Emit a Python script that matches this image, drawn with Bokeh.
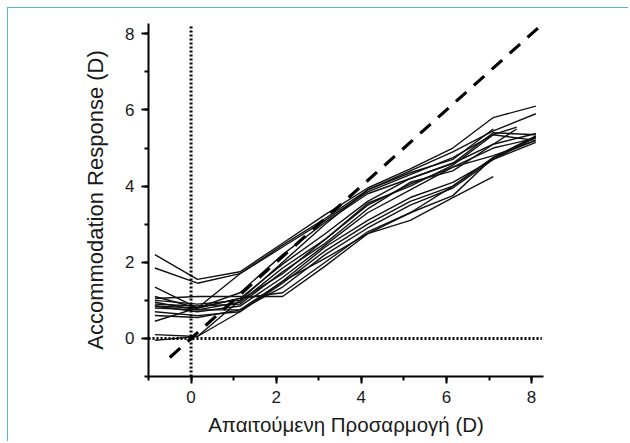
from bokeh.plotting import figure
from bokeh.models import Range1d, SingleIntervalTicker
from bokeh.embed import file_html
from bokeh.resources import INLINE

# Accommodation demand (D) at which responses were measured
demand = [-0.85, 0.15, 1.15, 2.15, 3.15, 4.15, 5.15, 6.15, 7.1, 8.1]
demand_short = [-0.85, 0.15, 1.15, 2.15, 3.15, 4.15, 5.15, 6.15, 7.1, 7.65]

# Individual accommodation responses (D)
s01 = [2.2, 1.55, 1.75, 2.5, 3.25, 3.95, 4.45, 5.0, 5.8, 6.1]
s02 = [1.85, 1.45, 1.7, 2.45, 3.15, 3.9, 4.4, 4.9, 5.45, 5.9]
s03 = [1.35, 0.8, 1.7, 2.4, 3.1, 3.85, 4.3, 4.75, 5.35, 5.55]
s04 = [1.1, 0.8, 1.05, 1.95, 2.75, 3.6, 4.2, 4.6, 5.1, 5.38]
s05 = [1.05, 1.1, 1.1, 1.1, 1.9, 2.75, 3.3, 3.75, 4.75, 5.32]
s06 = [0.95, 0.75, 0.95, 1.85, 2.6, 3.5, 4.05, 4.5, 5.0, 5.26]
s07 = [0.9, 0.85, 0.9, 1.75, 2.5, 3.4, 4.1, 4.4, 5.1, 5.5]
s08 = [0.85, 0.7, 0.85, 1.6, 2.45, 3.3, 3.9, 4.5, 4.8, 5.2]
s09 = [0.8, 0.75, 0.75, 1.5, 2.4, 3.1, 3.7, 4.1, 4.7, 5.15]
s10 = [0.7, 0.6, 0.7, 1.45, 2.3, 3.0, 3.6, 4.0, 4.75, 5.2]
s11 = [0.6, 0.55, 0.75, 1.35, 2.2, 2.9, 3.5, 3.95, 4.7, 5.28]
s12 = [0.45, 0.8, 1.05, 1.2, 2.0, 2.8, 3.3, 4.0, 4.75, 5.3]
s13 = [0.1, 0.05, 1.0, 2.0, 3.0, 3.9, 4.35, 4.7, 5.5]
s14 = [-0.05, 0.05, 0.7, 1.5, 2.1, 2.75, 3.1, 3.7, 4.25]
s15 = [0.85, 0.8, 1.2, 2.2, 3.05, 3.8, 4.2, 4.6, 5.4, 5.35]
s16 = [1.0, 0.9, 1.0, 1.7, 2.6, 3.55, 4.0, 4.55, 5.35, 5.2]

full_subjects = [s01, s02, s04, s05, s06, s08, s09, s10, s11, s12, s15, s16]
short_subjects = [s03, s07]
partial_subjects = [s13, s14]

FONT = "Liberation Sans"
TXT = "#1a1a1a"

p = figure(width=621, height=434,
           x_range=Range1d(-1, 8.28), y_range=Range1d(-1, 8.27),
           output_backend="svg", toolbar_location=None,
           min_border_left=140, min_border_right=86,
           min_border_top=15, min_border_bottom=66)
p.grid.visible = False
p.outline_line_color = None
p.background_fill_color = "white"
p.border_fill_color = "white"
p.styles = {"margin-left": "7px", "margin-top": "7px",
            "border-top": "1px solid #4dbad2", "border-left": "1px solid #4dbad2"}

xs, ys = [], []
for s in full_subjects:
    xs.append(demand[:len(s)]); ys.append(s)
for s in short_subjects:
    xs.append(demand_short[:len(s)]); ys.append(s)
for s in partial_subjects:
    xs.append(demand[:len(s)]); ys.append(s)
p.multi_line(xs, ys, line_color="#111111", line_width=1.4)

# reference lines
p.line([-0.5, 8.24], [-0.5, 8.24], line_color="black", line_width=3.2, line_dash="14 10")
p.line([0, 0], [-1, 8.2], line_color="black", line_width=3, line_dash="2 2")
p.line([-1, 8.24], [0, 0], line_color="black", line_width=3, line_dash="2 2")

for ax in (p.xaxis[0], p.yaxis[0]):
    ax.ticker = SingleIntervalTicker(interval=2, num_minor_ticks=2)
    ax.axis_line_width = 2
    ax.axis_line_color = "black"
    ax.major_tick_line_width = 2
    ax.minor_tick_line_width = 2
    ax.major_tick_out = 7
    ax.major_tick_in = 0
    ax.minor_tick_out = 4
    ax.minor_tick_in = 0
    ax.major_label_text_font = FONT
    ax.major_label_text_font_size = "17px"
    ax.major_label_text_color = TXT
    ax.major_label_standoff = 7
    ax.axis_label_text_font = FONT
    ax.axis_label_text_font_style = "normal"
    ax.axis_label_text_color = TXT

p.xaxis.axis_label = "Απαιτούμενη Προσαρμογή (D)"
p.yaxis.axis_label = "Accommodation Response (D)"
p.xaxis.axis_label_text_font_size = "20.5px"
p.yaxis.axis_label_text_font_size = "22px"
p.xaxis.axis_label_standoff = 7
p.yaxis.axis_label_standoff = 14
p.yaxis.major_label_orientation = "horizontal"

open("out.html", "w").write(file_html(p, INLINE))
